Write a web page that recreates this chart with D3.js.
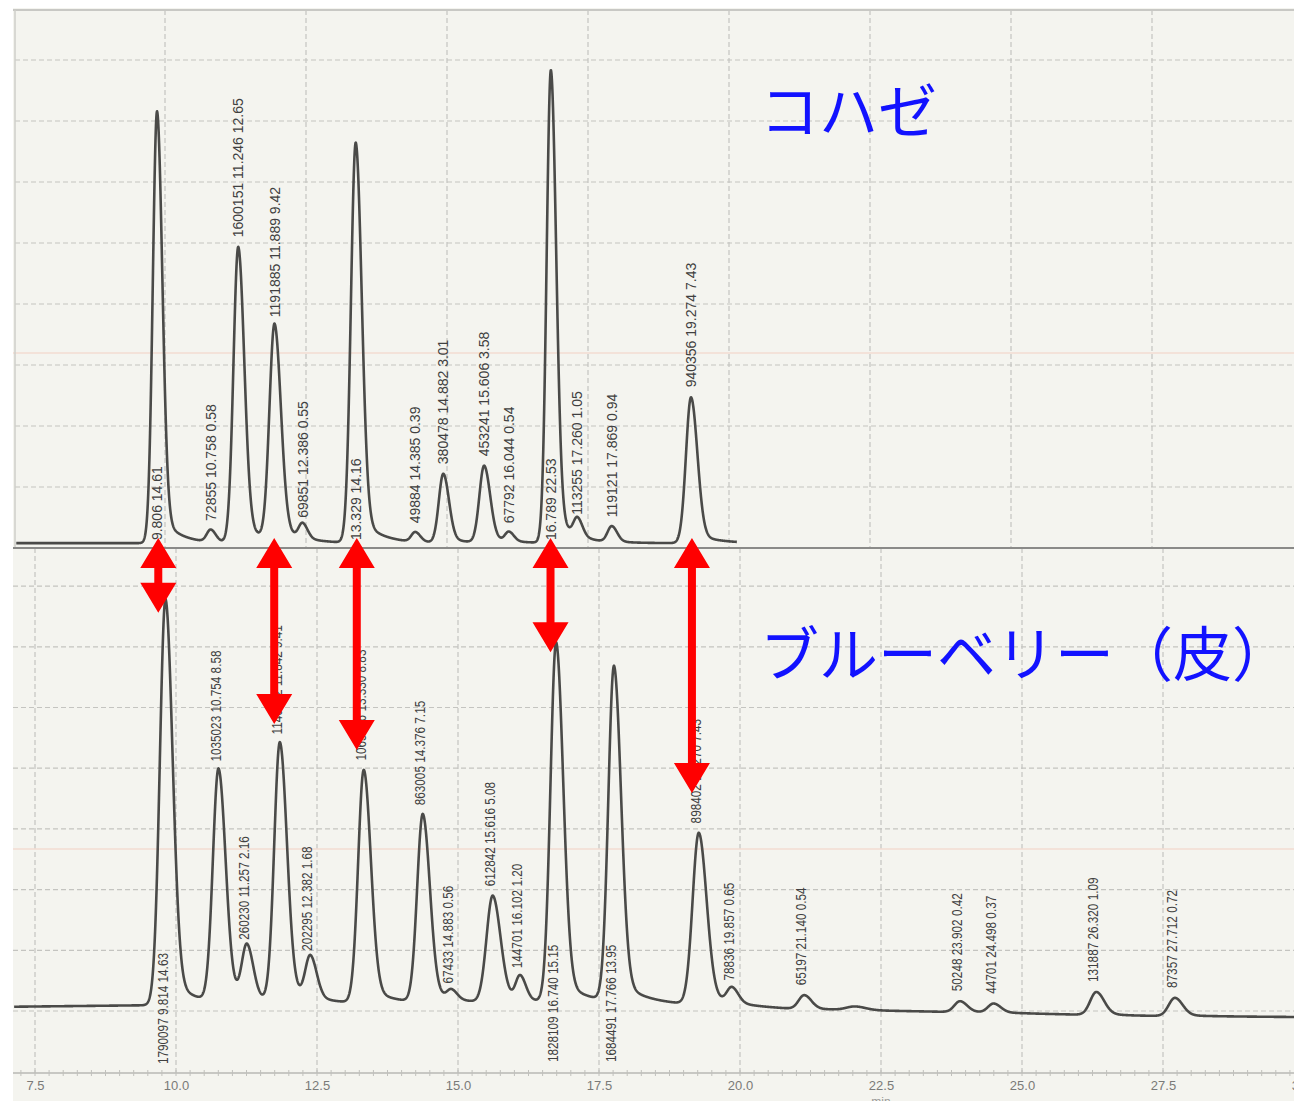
<!DOCTYPE html>
<html><head><meta charset="utf-8">
<script src="https://cdn.jsdelivr.net/npm/d3@7"></script>
<style>
html,body{margin:0;padding:0;background:#fff;}
svg{display:block;}
</style></head><body>
<svg id="c" width="1294" height="1101"></svg>
<script>
// ---------- DATA ----------
// Upper chromatogram (コハゼ)
const topTitle = "コハゼ";
const topRT     = [9.806, 10.758, 11.246, 11.889, 12.386, 13.329, 14.385, 14.882, 15.606, 16.044, 16.789, 17.260, 17.869, 19.274];
const topHeight = [708,   20,     485,    354,    25,     656,    16,     113,    126,    16,     775,    30,     26,     239];
const topSigma  = [0.075, 0.07,   0.085,  0.09,   0.07,   0.085,  0.07,   0.08,   0.085,  0.07,   0.075,  0.07,   0.075,  0.09];
const topLabels = ["9.806 14.61", "72855 10.758 0.58", "1600151 11.246 12.65", "1191885 11.889 9.42",
  "69851 12.386 0.55", "13.329 14.16", "49884 14.385 0.39", "380478 14.882 3.01", "453241 15.606 3.58",
  "67792 16.044 0.54", "16.789 22.53", "113255 17.260 1.05", "119121 17.869 0.94", "940356 19.274 7.43"];
const topBaseline = 8;
const topRange = [7.31, 20.09];

// Lower chromatogram (ブルーベリー（皮）)
const botTitle = "ブルーベリー（皮）";
const botRT     = [9.814, 10.754, 11.257, 11.842, 12.382, 13.330, 14.376, 14.883, 15.616, 16.102, 16.740, 17.766, 19.270, 19.857, 21.140, 22.04, 23.902, 24.498, 26.320, 27.712];
const botHeight = [669,   384,    90,     428,    71,     384,    310,    16,     176,    41,     593,    552,    283,    26,     23,     6,     18,     15,     38,     30];
const botSigma  = [0.10,  0.10,   0.09,   0.10,   0.09,   0.10,   0.10,   0.08,   0.11,   0.08,   0.10,   0.10,   0.11,   0.09,   0.10,   0.15,  0.10,   0.10,   0.11,   0.11];
const botLabels = ["1790097 9.814 14.63", "1035023 10.754 8.58", "260230 11.257 2.16", "1140502 11.842 9.41",
  "202295 12.382 1.68", "1065446 13.330 8.83", "863005 14.376 7.15", "67433 14.883 0.56", "612842 15.616 5.08",
  "144701 16.102 1.20", "1828109 16.740 15.15", "1684491 17.766 13.95", "898402 19.270 7.43", "78836 19.857 0.65",
  "65197 21.140 0.54", "", "50248 23.902 0.42", "44701 24.498 0.37", "131887 26.320 1.09", "87357 27.712 0.72"];
const botBaseT = [7.1, 10, 13, 16, 18, 19.5, 21, 24, 27, 30];
const botBaseV = [7,   10, 12, 13, 13, 9,    3,  -2, -8, -10];
const botRange = [7.13, 29.85];

// x-axis ticks (min)
const xTicks = [7.5, 10.0, 12.5, 15.0, 17.5, 20.0, 22.5, 25.0, 27.5, 30.0];

// Matching peaks marked by red arrows: [top index, bottom index, value the arrow reaches in lower panel]
const arrowTopIdx = [0, 3, 5, 10, 13];
const arrowBotIdx = [0, 3, 5, 10, 12];
const arrowEndVal = [656, 473, 430, 591, 359];

// ---------- DRAW ----------
const svg = d3.select("#c");
const W = 1294, H = 1101;

const xTop = d3.scaleLinear().domain([15, 27.5]).range([450, 450 + 12.5 * 56.4]);
const xBot = d3.scaleLinear().domain([15, 27.5]).range([458, 458 + 12.5 * 56.4]);
const yTop = d3.scaleLinear().domain([0, 900]).range([548, 548 - 9 * 61]);
const yBot = d3.scaleLinear().domain([0, 700]).range([1011, 1011 - 7 * 60.7]);
const botBase = d3.scaleLinear().domain(botBaseT).range(botBaseV);

// paper
svg.append("rect").attr("width", W).attr("height", H).attr("fill", "#ffffff");
svg.append("rect").attr("x", 13).attr("y", 8).attr("width", W - 13).attr("height", H - 8).attr("fill", "#f4f4ef");

const grid = svg.append("g").attr("stroke", "#c4c4c0").attr("stroke-width", 1.2).attr("stroke-dasharray", "5,3");
// top panel grid
[10, 12.5, 15, 17.5, 20, 22.5, 25, 27.5].forEach(t => {
  grid.append("line").attr("x1", xTop(t) - 3).attr("x2", xTop(t) - 3).attr("y1", 10).attr("y2", 548);
});
d3.range(100, 900, 100).forEach(v => {
  grid.append("line").attr("x1", 15).attr("x2", W).attr("y1", yTop(v)).attr("y2", yTop(v));
});
// bottom panel grid
xTicks.forEach(t => {
  grid.append("line").attr("x1", xBot(t)).attr("x2", xBot(t)).attr("y1", 548).attr("y2", 1073);
});
d3.range(100, 800, 100).forEach(v => {
  grid.append("line").attr("x1", 13).attr("x2", W).attr("y1", yBot(v)).attr("y2", yBot(v));
});
grid.append("line").attr("x1", 13).attr("x2", W).attr("y1", yBot(0)).attr("y2", yBot(0));
// faint scanner streaks
svg.append("line").attr("x1", 13).attr("x2", W).attr("y1", 353).attr("y2", 353).attr("stroke", "#f3ddd2").attr("stroke-width", 1.5);
svg.append("line").attr("x1", 13).attr("x2", W).attr("y1", 849).attr("y2", 849).attr("stroke", "#f3ddd2").attr("stroke-width", 1.5);

// frame lines
svg.append("line").attr("x1", 13).attr("x2", W).attr("y1", 10).attr("y2", 10).attr("stroke", "#c8c8c4").attr("stroke-width", 2);
svg.append("line").attr("x1", 15).attr("x2", 15).attr("y1", 10).attr("y2", 548).attr("stroke", "#cfcfca").attr("stroke-width", 1.5);
svg.append("line").attr("x1", 13).attr("x2", W).attr("y1", 548).attr("y2", 548).attr("stroke", "#8a8a88").attr("stroke-width", 2);

// axis
const axisY = 1073;
svg.append("line").attr("x1", 13).attr("x2", W).attr("y1", axisY).attr("y2", axisY).attr("stroke", "#b8b8b4").attr("stroke-width", 1.5);
const minor = svg.append("g").attr("stroke", "#c0c0bc").attr("stroke-width", 1);
d3.range(7.25, 30.01, 0.25).forEach(t => {
  minor.append("line").attr("x1", xBot(t)).attr("x2", xBot(t)).attr("y1", axisY - 3).attr("y2", axisY + 3);
});
const axis = d3.axisBottom(xBot).tickValues(xTicks).tickFormat(d3.format(".1f")).tickSize(0).tickPadding(8);
const ag = svg.append("g").attr("transform", `translate(0,${axisY})`).call(axis);
ag.select(".domain").remove();
ag.selectAll("text").attr("font-family", "'Liberation Sans',Arial,sans-serif")
  .attr("font-size", 13).attr("fill", "#7a7a78");
svg.append("text").attr("x", xBot(22.5)).attr("y", 1106).attr("text-anchor", "middle")
  .attr("font-family", "'Liberation Sans',sans-serif").attr("font-size", 12).attr("fill", "#9a9a98").text("min");

// peak shape (slightly tailing)
function shape(z) {
  if (z < 0) return Math.exp(-z * z / 2);
  return 0.92 * Math.exp(-z * z / (2 * 1.25 * 1.25)) + 0.08 * Math.exp(-z / 4);
}
function signal(t, rts, hs, ss, base) {
  let v = base;
  for (let i = 0; i < rts.length; i++) v += hs[i] * shape((t - rts[i]) / ss[i]);
  return v;
}
const step = 0.004;
const topPts = d3.range(topRange[0], topRange[1], step).map(t => [t, signal(t, topRT, topHeight, topSigma, topBaseline)]);
const botPts = d3.range(botRange[0], botRange[1], step).map(t => [t, signal(t, botRT, botHeight, botSigma, botBase(t))]);

svg.append("path").datum(topPts).attr("fill", "none").attr("stroke", "#4a4a48").attr("stroke-width", 2.6)
  .attr("stroke-linejoin", "round")
  .attr("d", d3.line().x(d => xTop(d[0])).y(d => yTop(d[1])));
svg.append("path").datum(botPts).attr("fill", "none").attr("stroke", "#4a4a48").attr("stroke-width", 2.6)
  .attr("stroke-linejoin", "round")
  .attr("d", d3.line().x(d => xBot(d[0])).y(d => yBot(d[1])));

// peak labels
const lblFont = "'Liberation Sans',Arial,sans-serif";
const tl = svg.append("g").attr("font-family", lblFont).attr("fill", "#404040").attr("font-size", 14);
topRT.forEach((rt, i) => {
  const x = xTop(rt);
  const apex = yTop(topBaseline + topHeight[i]);
  const y0 = topHeight[i] > 600 ? yTop(topBaseline) - 3 : apex - 10;
  tl.append("text").attr("transform", `translate(${x + 5},${y0}) rotate(-90)`).text(topLabels[i]);
});
const bl = svg.append("g").attr("font-family", lblFont).attr("fill", "#404040").attr("font-size", 14);
botRT.forEach((rt, i) => {
  if (!botLabels[i]) return;
  const x = xBot(rt) - 3;
  const base = yBot(botBase(rt));
  const apex = yBot(botBase(rt) + botHeight[i]);
  const y0 = botHeight[i] > 500 ? base + 59 : apex - 10;
  bl.append("text").attr("transform", `translate(${x + 5},${y0}) rotate(-90) scale(0.84,1)`).text(botLabels[i]);
});

// red double arrows
const ar = svg.append("g").attr("fill", "#ff0000");
arrowTopIdx.forEach((ti, k) => {
  const bi = arrowBotIdx[k];
  const x = (xTop(topRT[ti]) + xBot(botRT[bi])) / 2 - 3;
  const y1 = yTop(topBaseline) - 5;
  const y2 = yBot(arrowEndVal[k]);
  const hw = 18, hl = 30, sw = 4;
  const p = d3.path();
  p.moveTo(x, y1);
  p.lineTo(x + hw, y1 + hl); p.lineTo(x + sw, y1 + hl);
  p.lineTo(x + sw, y2 - hl); p.lineTo(x + hw, y2 - hl);
  p.lineTo(x, y2);
  p.lineTo(x - hw, y2 - hl); p.lineTo(x - sw, y2 - hl);
  p.lineTo(x - sw, y1 + hl); p.lineTo(x - hw, y1 + hl);
  p.closePath();
  ar.append("path").attr("d", p.toString());
});

// titles
svg.append("text").attr("x", 760).attr("y", 133).attr("font-family", "'Noto Sans CJK JP',sans-serif")
  .attr("font-size", 59).attr("fill", "#1212ff").text(topTitle);
svg.append("text").attr("x", 760).attr("y", 676).attr("font-family", "'Noto Sans CJK JP',sans-serif")
  .attr("font-size", 59).attr("fill", "#1212ff").text(botTitle);
</script></body></html>
